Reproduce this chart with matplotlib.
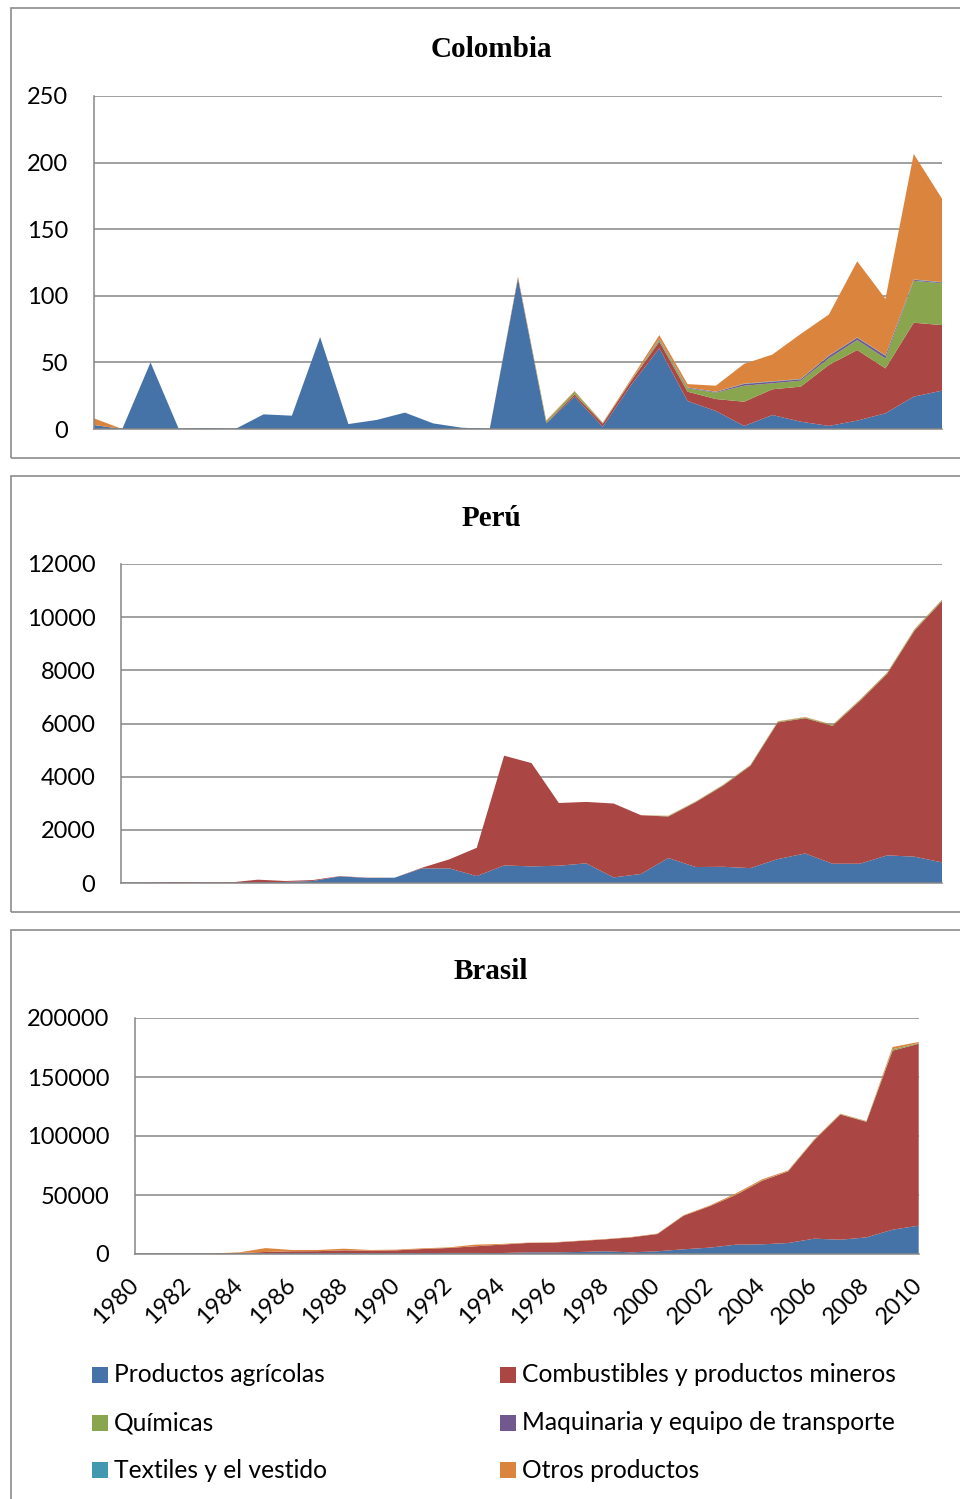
import matplotlib

matplotlib.use("Agg")
import matplotlib.pyplot as plt
from matplotlib.patches import Rectangle
import numpy as np

W, H = 960, 1499

years = list(range(1980, 2011))

series_names = [
    "Productos agrícolas",
    "Combustibles y productos mineros",
    "Químicas",
    "Maquinaria y equipo de transporte",
    "Textiles y el vestido",
    "Otros productos",
]
series_colors = ["#4572A7", "#AA4643", "#89A54E", "#71588F", "#4198AF", "#DB843D"]

# --- Colombia ---------------------------------------------------------------
col_agr = [3, 0, 50, 0, 0.5, 0, 11, 10, 69, 3.7, 6.8, 12.3, 4.2, 1, 0, 113,
           4.2, 24.3, 1.7, 33, 60.6, 21, 13.5, 2.3, 10.5, 5.5, 2.3, 6.3, 11.8, 24.3, 28.8]
col_comb = [0] * 15 + [0.5, 0.5, 1.7, 2.3, 3, 5, 7, 9, 18.2, 19.3, 26.3,
                       45.8, 53, 33.7, 55.5, 49.2]
col_quim = [0] * 16 + [1.3, 2, 0.5, 0.5, 1.5, 2.5, 4.8, 12, 4.5, 4.5, 5,
                       7.5, 7.5, 31.5, 31.4]
col_maq = [0] * 20 + [0.5, 0.5, 0.5, 1.3, 1.2, 1, 1.8, 1.7, 2, 0.7, 0.6]
col_text = [0] * 20 + [0.2, 0.2, 0.2, 0.3, 0.3, 0.3, 0.3, 0.3, 0.3, 0.3, 0.3]
col_otros = [5] + [0] * 14 + [1, 0.5, 0.5, 0.3, 1, 2.7, 2.5, 4.5, 14.8, 20.1,
                              33.7, 30.8, 57.1, 42.4, 94.2, 62.6]

# --- Perú -------------------------------------------------------------------
per_agr = [0, 0, 0, 0, 0, 20, 40, 75, 250, 190, 200, 550, 550, 260,
           660, 625, 650, 740, 210, 340, 940, 600, 610, 560, 900, 1110,
           725, 725, 1040, 990, 775]
per_comb = [0, 10, 30, 20, 20, 105, 35, 35, 10, 10, 0, 25, 340, 1065,
            4130, 3885, 2360, 2310, 2780, 2210, 1560, 2440, 3050, 3850, 5140,
            5090, 5185, 6125, 6835, 8510, 9825]
per_quim = [0] * 20 + [20, 20, 25, 25, 30, 30, 30, 35, 35, 40, 40]
per_maq = [0] * 31
per_text = [0] * 31
per_otros = [0] * 20 + [10, 10, 10, 10, 15, 15, 15, 15, 15, 20, 20]

# --- Brasil -----------------------------------------------------------------
bra_agr = [0, 0, 0, 100, 300, 600, 700, 700, 800, 700, 700, 800, 900, 900,
           800, 1400, 1400, 1700, 2300, 1400, 2300, 4000, 5400, 7900, 8200,
           9300, 13000, 12100, 14100, 20600, 24000]
bra_comb = [0, 0, 0, 200, 600, 1100, 1600, 1700, 2300, 2100, 2400, 3400,
            4200, 5600, 7100, 7900, 8200, 9300, 10100, 12700, 14600, 28400,
            35100, 42100, 53800, 60700, 83400, 106100, 97900, 151700, 154200]
bra_quim = [0] * 20 + [100, 100, 100, 200, 200, 200, 300, 300, 300, 1200, 600]
bra_maq = [0] * 31
bra_text = [0] * 31
bra_otros = [0, 0, 0, 200, 500, 3300, 1100, 1000, 1400, 600, 600, 600, 500,
             1400, 600, 300, 300, 300, 300, 300, 300, 400, 500, 1100, 1000,
             600, 500, 400, 400, 1900, 900]

GRID = "#868686"
TICK_FONT = "Lato"


def px_rect(left, top, right, bottom):
    """Figure-fraction rectangle from pixel edges (origin top-left)."""
    return [left / W, 1 - bottom / H, (right - left) / W, (bottom - top) / H]


def draw_panel(fig, rect, title, title_y, data, ymax, ystep, show_years=False):
    ax = fig.add_axes(px_rect(*rect))
    x = np.arange(len(years))
    ax.stackplot(x, *data, colors=series_colors, linewidth=0)
    ax.set_xlim(0, len(years) - 1)
    ax.set_ylim(0, ymax)
    ax.set_yticks(np.arange(0, ymax + 1, ystep))
    ax.yaxis.grid(True, color=GRID, linewidth=1.1)
    ax.set_axisbelow(True)
    for side in ("top", "right"):
        ax.spines[side].set_visible(False)
    for side in ("left", "bottom"):
        ax.spines[side].set_color(GRID)
        ax.spines[side].set_linewidth(1.1)
    ax.tick_params(axis="y", length=0, pad=18.5, labelsize=17)
    for lab in ax.get_yticklabels():
        lab.set_fontfamily(TICK_FONT)
    if show_years:
        ax.set_xticks(x[::2])
        ax.set_xticklabels([str(y) for y in years[::2]], rotation=45,
                           ha="right", va="center", rotation_mode="anchor",
                           fontfamily=TICK_FONT, fontsize=17)
        ax.tick_params(axis="x", length=0, pad=20)
    else:
        ax.set_xticks([])
    fig.text(491 / W, 1 - title_y / H, title, ha="center", va="center",
             fontfamily="Liberation Serif", fontweight="bold", fontsize=21)
    return ax


fig = plt.figure(figsize=(W / 100, H / 100), dpi=100)

# frames round each chart
for top, bottom in [(8, 458), (476, 912), (930, 1520)]:
    fig.patches.append(Rectangle((11 / W, 1 - bottom / H), 1.2, (bottom - top) / H,
                                 transform=fig.transFigure, fill=False,
                                 edgecolor="#8c8c8c", linewidth=1.2))

draw_panel(fig, (94, 96, 942, 429), "Colombia", 49.5,
           [col_agr, col_comb, col_quim, col_maq, col_text, col_otros], 250, 50)
draw_panel(fig, (121, 564, 942, 883), "Perú", 518,
           [per_agr, per_comb, per_quim, per_maq, per_text, per_otros], 12000, 2000)
draw_panel(fig, (135, 1018, 918.7, 1254), "Brasil", 971.5,
           [bra_agr, bra_comb, bra_quim, bra_maq, bra_text, bra_otros],
           200000, 50000, show_years=True)

# legend, two columns of three
for i, (name, color) in enumerate(zip(series_names, series_colors)):
    row, col = divmod(i, 2)
    x0 = 92 if col == 0 else 500
    yc = 1375 + row * 47.5
    fig.patches.append(Rectangle((x0 / W, 1 - (yc + 8) / H), 16 / W, 16 / H,
                                 transform=fig.transFigure, facecolor=color,
                                 edgecolor="none"))
    fig.text((x0 + 22) / W, 1 - yc / H, name, ha="left", va="center",
             fontfamily=TICK_FONT, fontsize=17.7)

fig.savefig("out.png", dpi=100)
